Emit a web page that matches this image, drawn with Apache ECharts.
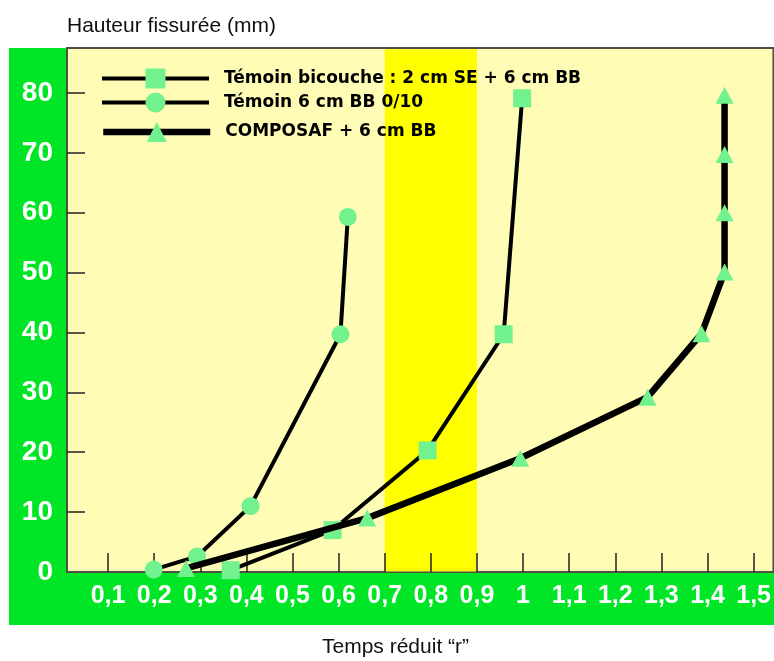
<!DOCTYPE html>
<html>
<head>
<meta charset="utf-8">
<script src="https://cdn.jsdelivr.net/npm/echarts@6/dist/echarts.min.js"></script>
<style>html,body{margin:0;padding:0;background:#fff;}#c{width:774px;height:661px;}</style>
</head>
<body>
<div id="c"></div>
<script>
const xTicks = [0.1, 0.2, 0.3, 0.4, 0.5, 0.6, 0.7, 0.8, 0.9, 1, 1.1, 1.2, 1.3, 1.4, 1.5];
const yTicks = [0, 10, 20, 30, 40, 50, 60, 70, 80];
const bandRange = [0.7, 0.9];
const seriesNames = ['Témoin bicouche : 2 cm SE + 6 cm BB', 'Témoin 6 cm BB 0/10', 'COMPOSAF + 6 cm BB'];
const bicoucheX = [0.366, 0.587, 0.793, 0.958, 0.998];
const bicoucheY = [0.3, 7.0, 20.3, 39.7, 79.1];
const temoinX = [0.199, 0.293, 0.409, 0.604, 0.620];
const temoinY = [0.4, 2.6, 11.0, 39.7, 59.3];
const composafX = [0.269, 0.662, 0.994, 1.270, 1.387, 1.437, 1.437, 1.437, 1.437];
const composafY = [0.6, 9.0, 19.0, 29.2, 39.8, 50.1, 60.0, 69.7, 79.6];

const GREEN = '#00e626';
const MARK = '#72f28e';
const zip = (xs, ys) => xs.map((x, i) => [x, ys[i]]);

const chart = echarts.init(document.getElementById('c'), null, {renderer: 'canvas'});
const lineWidths = [4, 4, 6.5];
const symbols = ['rect', 'circle', 'triangle'];
const symSizes = [18, 18, [18, 17]];
const datas = [zip(bicoucheX, bicoucheY), zip(temoinX, temoinY), zip(composafX, composafY)];
const legendTops = [68.5, 92.5, 122];

const option = {
  animation: false,
  backgroundColor: '#ffffff',
  title: [
    {text: 'Hauteur fissurée (mm)', left: 67, top: 16, padding: 0,
     textStyle: {fontFamily: 'Liberation Sans', fontWeight: 'normal', fontSize: 21, color: '#111'}},
    {text: 'Temps réduit “r”', left: 322, top: 637, padding: 0,
     textStyle: {fontFamily: 'Liberation Sans', fontWeight: 'normal', fontSize: 21, color: '#111'}}
  ],
  graphic: [
    {type: 'rect', z: -10, shape: {x: 9, y: 48, width: 60, height: 577}, style: {fill: GREEN}},
    {type: 'rect', z: -10, shape: {x: 9, y: 571, width: 765, height: 54}, style: {fill: GREEN}}
  ],
  legend: seriesNames.map((n, i) => ({
    data: [n], left: 100, top: legendTops[i], orient: 'horizontal',
    itemWidth: 107, itemHeight: 25, padding: 0,
    lineStyle: {width: lineWidths[i], color: '#000'},
    textStyle: {fontFamily: 'DejaVu Sans', fontWeight: 'bold', fontSize: 17, color: '#000', padding: [0, 0, 0, 10]},
    selectedMode: false
  })),
  grid: {left: 67, top: 48, right: -3, bottom: 89, show: true, backgroundColor: '#fffdb5',
         borderColor: '#4f4f42', borderWidth: 2},
  xAxis: {
    type: 'value', min: 0.011, max: 1.543, z: 1,
    axisLine: {show: false},
    splitLine: {show: false},
    axisTick: {show: true, inside: true, length: 19, customValues: xTicks, lineStyle: {color: '#222', width: 1.5}},
    axisLabel: {customValues: xTicks, margin: 12, color: '#fff', fontFamily: 'Liberation Sans', fontWeight: 'bold', fontSize: 25,
      formatter: v => String(Math.round(v * 10) / 10).replace('.', ',')}
  },
  yAxis: {
    type: 'value', min: 0, max: 87.5, z: 1,
    axisLine: {show: false},
    splitLine: {show: false},
    axisTick: {show: true, inside: true, length: 18, customValues: yTicks.filter(v => v > 0), lineStyle: {color: '#222', width: 1.5}},
    axisLabel: {customValues: yTicks, margin: 14, color: '#fff', fontFamily: 'Liberation Sans', fontWeight: 'bold', fontSize: 28,
      formatter: v => String(v)}
  },
  series: [
    {type: 'line', name: '_band', data: [], z: 0.5, silent: true,
     markArea: {silent: true, itemStyle: {color: '#ffff00'},
       data: [[{xAxis: bandRange[0], yAxis: 0.1}, {xAxis: bandRange[1], yAxis: 87.3}]]}}
  ].concat(seriesNames.map((n, i) => ({
    type: 'line', name: n, data: datas[i], clip: false,
    symbol: symbols[i], symbolSize: symSizes[i], showAllSymbol: true,
    lineStyle: {color: '#000', width: lineWidths[i]},
    itemStyle: {color: MARK, borderWidth: 0},
    z: 2 + i
  })))
};
chart.setOption(option);
</script>
</body>
</html>
